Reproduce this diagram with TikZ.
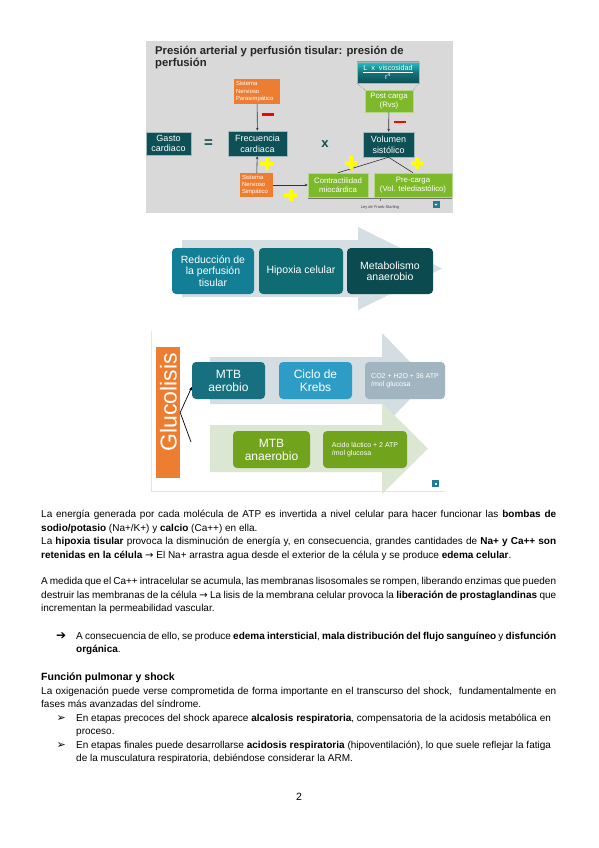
\documentclass[tikz,border=0pt]{standalone}
\usepackage{fontspec}
\setmainfont{Liberation Sans}
\newfontfamily\symfont{DejaVu Sans}
\usetikzlibrary{arrows.meta,calc}
\definecolor{slidegray}{HTML}{D9D9D9}
\definecolor{titlegray}{HTML}{262626}
\definecolor{tealdk}{HTML}{0D5056}
\definecolor{tealbd}{HTML}{9FB8BA}
\definecolor{tealtop}{HTML}{22C2C8}
\definecolor{orangeS}{HTML}{ED7D31}
\definecolor{greenS}{HTML}{7DB92A}
\definecolor{greenbd}{HTML}{B5D882}
\definecolor{plusyellow}{HTML}{FFFF00}
\definecolor{minusred}{HTML}{FF0000}
\definecolor{iconteal}{HTML}{1F7C96}
\definecolor{stwoarrow}{HTML}{D5DEE2}
\definecolor{stwoa}{HTML}{137F97}
\definecolor{stwob}{HTML}{0F6C72}
\definecolor{stwoc}{HTML}{0B4B4F}
\definecolor{sthreegray}{HTML}{D3DDE2}
\definecolor{sthreegrn}{HTML}{DCE7D3}
\definecolor{aerob}{HTML}{17707F}
\definecolor{krebs}{HTML}{2E9DC6}
\definecolor{cotwo}{HTML}{A1B5C1}
\definecolor{anaer}{HTML}{71A31C}
\newcommand\rarr{{\symfont\fontsize{10}{10}\selectfont →}}
\newcommand\jl[1]{\makebox[515pt][s]{#1}}
\newcommand\jlb[1]{\makebox[480pt][s]{#1}}
\begin{document}
\begin{tikzpicture}[x=1pt,y=-1pt,
  title/.style={anchor=base west, inner sep=0pt, text=titlegray, font=\bfseries\fontsize{11.3}{12}\selectfont},
  tbox/.style={draw=tealbd, line width=0.5pt, fill=tealdk, text=white, align=center, inner sep=0pt, font=\fontsize{9}{10.8}\selectfont},
  gbox/.style={draw=greenbd, line width=0.5pt, fill=greenS, text=white, align=center, inner sep=0pt, font=\fontsize{7.8}{9.2}\selectfont},
  obox/.style={fill=orangeS, text=white, align=left, inner xsep=2pt, inner ysep=0pt, font=\fontsize{5.9}{7.2}\selectfont},
  conn/.style={draw=black!80, line width=0.6pt, -{Stealth[length=3pt,width=2.6pt]}},
  plain/.style={draw=black!80, line width=0.6pt},
  rbox/.style={rounded corners=4pt, text=white, align=center, inner sep=0pt, minimum height=46pt, font=\fontsize{10.5}{11.3}\selectfont},
  rthree/.style={rounded corners=4pt, text=white, align=center, inner sep=0pt, minimum height=37pt},
  big/.style={font=\fontsize{12}{13}\selectfont},
  small/.style={font=\fontsize{7}{8}\selectfont, align=left},
  body/.style={anchor=base west, inner sep=0pt, font=\fontsize{10}{13.5}\selectfont},
  yplus/.pic={\fill[plusyellow] (-6.3,-2) rectangle (6.3,2); \fill[plusyellow] (-2,-6.3) rectangle (2,6.3);},
  rminus/.pic={\fill[minusred] (-6,-1.3) rectangle (6,1.3);}
]
\useasboundingbox (0,0) rectangle (599,848);
\fill[white] (0,0) rectangle (599,848);

% ---------- slide 1 ----------
\fill[slidegray] (146,41) rectangle (453,213);
\node[title] (t1) at (155,54.7) {Presión arterial y perfusión tisular: presión de};
\node[title] (t2) at (155,67) {perfusión};

\node[tbox, minimum width=45pt, minimum height=23pt] (gasto) at (168.5,143.5) {Gasto\\cardiaco};
\node[inner sep=0pt, text=tealdk, font=\bfseries\fontsize{15}{15}\selectfont] (eq) at (208.5,143.5) {=};
\node[tbox, minimum width=59pt, minimum height=25pt] (frec) at (257.5,143.5) {Frecuencia\\cardiaca};
\node[obox, text width=42pt, minimum height=25pt] (para) at (257,91.5) {Sistema\\Nervioso\\Parasimpático};
\node[obox, text width=29pt, minimum height=24pt] (simp) at (256.5,185) {Sistema\\Nervioso\\Simpático};
\node[inner sep=0pt, text=tealdk, font=\bfseries\fontsize{13}{13}\selectfont] (times) at (325,144) {x};
\node[tbox, minimum width=51pt, minimum height=25pt] (vol) at (388.5,144.5) {Volumen\\sistólico};
\node[gbox, minimum width=48pt, minimum height=22pt] (post) at (389,101) {Post carga\\(Rvs)};
\node[draw=tealbd, line width=0.5pt, top color=tealtop, bottom color=tealdk, middle color=tealdk!70!tealtop,
      text=white, align=center, inner sep=0pt, minimum width=62pt, minimum height=21pt,
      font=\fontsize{7.2}{8.6}\selectfont] (visc) at (388,72.5) {\underline{L\ \ x\ \ viscosidad}\\r\textsuperscript{4}};
\node[gbox, minimum width=60pt, minimum height=24pt] (contr) at (338,185) {Contractilidad\\miocárdica};
\node[gbox, minimum width=78pt, minimum height=24pt] (pre) at (413,185) {Pre-carga\\(Vol. telediastólico)};

\draw[conn] (para) -- (frec);
\draw[conn] (simp) -- (frec);
\draw[conn] (simp) -- (contr);
\draw[conn] (post) -- (vol);
\draw[plain] (contr.north) -- (vol.south);
\draw[plain] (pre.north) -- (vol.south);
\draw[black!45, densely dotted, line width=0.6pt] (visc.south west) -- (post.north west);
\draw[black!45, densely dotted, line width=0.6pt] (visc.south east) -- (post.north east);

\pic at (267.5,114.3) {rminus};
\pic at (400,122) {rminus};
\pic at (266.5,164) {yplus};
\pic at (290.5,195) {yplus};
\pic at (351,162.5) {yplus};
\pic at (417,163) {yplus};

\coordinate (fsl) at (308,198.7);
\coordinate (fsr) at (452,198.7);
\coordinate (fsm) at (380,198.7);
\draw[black!55, line width=0.6pt] (fsl) -- (fsr);
\draw[black!55, line width=0.6pt] (fsm) -- ++(0,2.5);
\node[inner sep=0pt, text=black!75, font=\fontsize{4}{4}\selectfont] (fs) at (380,207) {Ley de Frank-Starling};
\node[fill=iconteal, minimum size=7pt, inner sep=0pt] (ic1) at (436,204.5) {};
\fill[white] ($(ic1)+(-1.6,-0.7)$) -- ($(ic1)+(1.6,-0.7)$) -- ($(ic1)+(0,1.2)$) -- cycle;

% ---------- slide 2 ----------
\fill[stwoarrow] (182,240) -- (358,240) -- (358,227) -- (442,268.5) -- (358,310) -- (358,297) -- (182,297) -- cycle;
\node[rbox, fill=stwoa, minimum width=82pt] (reduc) at (213,271) {Reducción de\\la perfusión\\tisular};
\node[rbox, fill=stwob, minimum width=84pt] (hipox) at (301,271) {Hipoxia celular};
\node[rbox, fill=stwoc, minimum width=86pt] (metab) at (390,271) {Metabolismo\\anaerobio};

% ---------- slide 3 ----------
\draw[black!10, line width=0.6pt] (151,331) -- (151,491) -- (446,491);
\fill[sthreegray] (210,357) -- (382,357) -- (382,333) -- (428,380.5) -- (382,428) -- (382,404) -- (210,404) -- cycle;
\fill[sthreegrn] (210,425) -- (382,425) -- (382,403) -- (428,448.5) -- (382,494) -- (382,472) -- (210,472) -- cycle;
\node[fill=orangeS, minimum width=24pt, minimum height=131pt, inner sep=0pt] (glu) at (168,412.5) {};
\node[rotate=90, inner sep=0pt, text=white, font=\fontsize{23}{23}\selectfont] (glutext) at (168.5,402.5) {Glucolisis};
\node[rthree, big, fill=aerob, minimum width=73pt] (mtba) at (228.5,380.5) {MTB\\aerobio};
\node[rthree, big, fill=krebs, minimum width=73pt] (krebsbox) at (315.5,380.5) {Ciclo de\\Krebs};
\node[rthree, small, fill=cotwo, minimum width=80pt] (co2) at (405,380.5) {CO2 + H2O + 36 ATP\\/mol glucosa};
\node[rthree, big, fill=anaer, minimum width=77pt] (mtban) at (271.5,449.5) {MTB\\anaerobio};
\node[rthree, small, fill=anaer, minimum width=84pt] (acido) at (365,449.5) {Acido láctico + 2 ATP\\/mol glucosa};
\coordinate (brend) at (191,442);
\draw[black, line width=0.7pt, -{Stealth[length=3.5pt,width=3pt]}] (glu.east) -- (mtba.190);
\draw[black, line width=0.7pt] (glu.east) -- (brend);
\node[fill=iconteal, minimum size=6.5pt, inner sep=0pt] (ic2) at (435.5,483.5) {};
\fill[white] ($(ic2)+(-1,-1)$) rectangle ($(ic2)+(1,1)$);

% ---------- body text ----------
\node[body] (p1a) at (41,517.5) {\jl{La energía generada por cada molécula de ATP es invertida a nivel celular para hacer funcionar las \textbf{bombas de}}};
\node[body] (p1b) at (41,531) {\textbf{sodio/potasio} (Na+/K+) y \textbf{calcio} (Ca++) en ella.};
\node[body] (p1c) at (41,544.5) {\jl{La \textbf{hipoxia tisular} provoca la disminución de energía y, en consecuencia, grandes cantidades de \textbf{Na+ y Ca++ son}}};
\node[body] (p1d) at (41,558) {\textbf{retenidas en la célula} \rarr{} El Na+ arrastra agua desde el exterior de la célula y se produce \textbf{edema celular}.};

\node[body] (p2a) at (41,584.5) {\jl{A medida que el Ca++ intracelular se acumula, las membranas lisosomales se rompen, liberando enzimas que pueden}};
\node[body] (p2b) at (41,598) {\jl{destruir las membranas de la célula \rarr{} La lisis de la membrana celular provoca la \textbf{liberación de prostaglandinas} que}};
\node[body] (p2c) at (41,611.5) {incrementan la permeabilidad vascular.};

\node[body] (b1m) at (56,639.5) {{\symfont\fontsize{12}{12}\selectfont ➔}};
\node[body] (b1a) at (76,639) {\jlb{A consecuencia de ello, se produce \textbf{edema intersticial}, \textbf{mala distribución del flujo sanguíneo} y \textbf{disfunción}}};
\node[body] (b1b) at (76,652.5) {\textbf{orgánica}.};

\node[body, font=\bfseries\fontsize{10.5}{12}\selectfont] (head) at (41,680.5) {Función pulmonar y shock};
\node[body] (p3a) at (41,694) {\jl{La oxigenación puede verse comprometida de forma importante en el transcurso del shock, \ fundamentalmente en}};
\node[body] (p3b) at (41,707.5) {fases más avanzadas del síndrome.};

\node[body] (b2m) at (56.5,721.5) {{\symfont\fontsize{11}{11}\selectfont ➢}};
\node[body] (b2a) at (76,721) {En etapas precoces del shock aparece \textbf{alcalosis respiratoria}, compensatoria de la acidosis metabólica en};
\node[body] (b2b) at (76,734.5) {proceso.};
\node[body] (b3m) at (56.5,748.5) {{\symfont\fontsize{11}{11}\selectfont ➢}};
\node[body] (b3a) at (76,748) {En etapas finales puede desarrollarse \textbf{acidosis respiratoria} (hipoventilación), lo que suele reflejar la fatiga};
\node[body] (b3b) at (76,761.5) {de la musculatura respiratoria, debiéndose considerar la ARM.};

\node[anchor=base, inner sep=0pt, font=\fontsize{10.5}{12}\selectfont] (pnum) at (299,800.5) {2};
\end{tikzpicture}
\end{document}
